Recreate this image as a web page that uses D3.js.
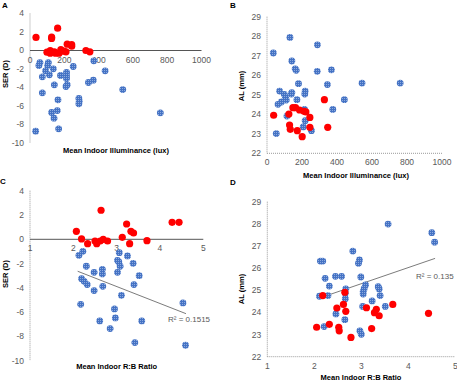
<!DOCTYPE html>
<html>
<head>
<meta charset="utf-8">
<script src="https://cdn.jsdelivr.net/npm/d3@7"></script>
<style>
  body { margin: 0; background: #fff; }
  svg text { font-family: "Liberation Sans", Arial, sans-serif; }
</style>
</head>
<body>
<svg id="chart" width="457" height="384"></svg>
<script>
// tick labels
const serTicks = [-10, -8, -6, -4, -2, 0, 2, 4];
const alTicks = [22, 23, 24, 25, 26, 27, 28, 29];
const luxTicks = [0, 200, 400, 600, 800, 1000];
const rbTicks = [1, 2, 3, 4, 5];

// A: illuminance vs SER  [lux, SER]
const luxSerRed = [
  [35, 1.41], [126, 1.44], [126, 1.3], [161, 2.41], [217, 0.68], [243, 0.65], [243, 0.47],
  [99, -0.18], [118, 0], [118, -0.29], [142, -0.14], [149, -0.29], [169, -0.29], [180, 0.1],
  [198, -0.07], [210, -0.14], [326, 0], [349, -0.14]
];
const luxSerBlue = [
  [58, -1.3], [52, -1.62], [107, -1.3], [103, -1.62], [91, -2.2], [113, -2.63], [72, -2.85],
  [136, -1.98], [178, -2.7], [213, -2.38], [213, -2.74], [213, -3.03], [217, -3.71], [210, -3.89],
  [252, -1.73], [142, -3.71], [72, -4.58], [163, -5.33], [285, -5.19], [287, -5.48], [285, -5.77],
  [126, -6.7], [159, -6.49], [140, -7.32], [167, -8.47], [33, -8.72], [341, -3.46], [369, -3.21],
  [438, -2.2], [541, -4.22], [760, -6.74], [372, -1.12]
];

// B: illuminance vs AL  [lux, AL]
const luxAlRed = [
  [328, 24.75], [38, 23.95], [148, 24.34], [163, 24.34], [186, 24.22], [211, 24.15], [222, 24.12],
  [125, 24.01], [245, 23.84], [129, 23.45], [133, 23.23], [173, 23.16], [201, 22.85], [245, 23.33],
  [347, 23.33]
];
const luxAlBlue = [
  [131, 27.94], [288, 27.56], [36, 27.14], [142, 26.73], [161, 26.33], [167, 26.25], [287, 26.2],
  [368, 26.28], [180, 25.57], [345, 25.52], [543, 25.6], [761, 25.6], [72, 25.19], [99, 25.02],
  [106, 24.87], [110, 24.73], [142, 25.11], [139, 25.04], [218, 25.19], [216, 25.04], [171, 24.75],
  [63, 24.51], [82, 24.63], [442, 24.75], [376, 24.25], [214, 24.25], [114, 23.91], [218, 23.67],
  [207, 23.35], [254, 23.16], [53, 23.01]
];

// C: R:B ratio vs SER  [ratio, SER]
const rbSerRed = [
  [2.64, 2.39], [3.23, 1.26], [4.28, 1.4], [4.44, 1.4], [2.07, 0.66], [3.33, 0.66], [3.39, 0.52],
  [2.19, 0.03], [2.33, -0.36], [2.5, -0.14], [2.54, -0.36], [2.62, -0.14], [2.69, 0], [2.79, -0.14],
  [3.13, 0.16], [3.3, -0.36], [3.7, -0.11]
];
const rbSerBlue = [
  [2.22, -0.99], [2.13, -1.32], [3.06, -1.1], [3.25, -1.37], [3.02, -1.73], [3.05, -1.87],
  [3.08, -2.22], [3.02, -2.72], [3.38, -1.98], [2.3, -2.22], [2.48, -2.72], [2.67, -2.47],
  [2.67, -2.85], [3.52, -2.99], [2.19, -3.24], [2.25, -3.46], [2.32, -3.73], [2.48, -4.22],
  [2.68, -3.87], [3.4, -3.73], [3.11, -4.61], [2.17, -5.35], [2.95, -5.73], [2.97, -6.47],
  [2.61, -6.72], [3.58, -6.72], [2.85, -7.35], [4.53, -5.24], [3.42, -8.5], [4.59, -8.72]
];
const rbSerTrend = [[2.1, -2.63], [4.6, -6.12]];

// D: R:B ratio vs AL  [ratio, AL]
const rbAlRed = [
  [2.18, 24.76], [2.65, 24.91], [2.62, 24.36], [2.48, 24.2], [2.67, 24.05], [3.11, 24.21],
  [3.32, 24.14], [3.28, 23.99], [3.38, 23.85], [3.67, 24.36], [4.43, 23.96], [2.05, 23.33],
  [2.32, 23.46], [2.52, 23.33], [2.53, 23.17], [2.78, 22.87], [3.22, 23.27]
];
const rbAlBlue = [
  [3.57, 27.99], [4.5, 27.6], [4.56, 27.17], [2.82, 26.77], [2.13, 26.32], [2.18, 26.32],
  [2.96, 26.37], [2.94, 26.22], [2.23, 25.54], [2.45, 25.63], [2.58, 25.63], [2.99, 25.6],
  [2.32, 25.19], [3.09, 25.24], [3.06, 25.07], [3.04, 24.94], [3.04, 24.83], [3.36, 25.16],
  [3.38, 25.06], [3.4, 24.76], [2.67, 25.06], [2.66, 24.86], [2.66, 24.62], [2.11, 24.73],
  [2.29, 24.76], [3.23, 24.52], [3.51, 24.27], [3.03, 24.27], [2.46, 23.93], [2.65, 23.67],
  [2.21, 23.36], [2.97, 23.17], [3.0, 23.01]
];
const rbAlTrend = [[2.14, 24.67], [4.57, 26.44]];

const svg = d3.select("#chart");

// dotted texture for the blue markers
const pat = svg.append("defs").append("pattern")
  .attr("id", "bluedots")
  .attr("patternUnits", "userSpaceOnUse")
  .attr("width", 2).attr("height", 2);
pat.append("rect").attr("width", 2).attr("height", 2).attr("fill", "#4472c4");
pat.append("rect").attr("width", 1).attr("height", 1).attr("fill", "#8caadf");

function drawPanel(p) {
  const g = svg.append("g");
  const x = d3.scaleLinear().domain(p.xDomain).range(p.xRange);
  const y = d3.scaleLinear().domain(p.yDomain).range(p.yRange);

  g.append("text")
    .attr("x", p.letter[1]).attr("y", p.letter[2])
    .style("font-size", "8px").style("font-weight", "bold")
    .text(p.letter[0]);

  // y axis (dotted)
  g.append("line")
    .attr("x1", x(p.xDomain[0])).attr("x2", x(p.xDomain[0]))
    .attr("y1", y(p.yDomain[1])).attr("y2", y(p.yDomain[0]))
    .attr("stroke", "#9a9a9a").attr("stroke-dasharray", "1,1");

  // x axis line sits on xAt (0 for SER, bottom for AL)
  const xAxisY = y(p.xAt);
  const atBottom = p.xAt === p.yDomain[0];
  g.append("line")
    .attr("x1", x(p.xDomain[0])).attr("x2", x(p.xDomain[1]))
    .attr("y1", xAxisY).attr("y2", xAxisY)
    .attr("stroke", atBottom ? "#9a9a9a" : "#555")
    .attr("stroke-dasharray", atBottom ? "1,1" : null);

  g.selectAll(".ytick").data(p.yTicks).enter().append("text")
    .attr("x", x(p.xDomain[0]) - 6)
    .attr("y", d => y(d))
    .attr("dy", "0.35em")
    .attr("text-anchor", "end")
    .style("font-size", "8.5px").attr("fill", "#595959")
    .text(d => d);

  g.selectAll(".xtick").data(p.xTicks).enter().append("text")
    .attr("x", d => x(d))
    .attr("y", xAxisY + 12)
    .attr("text-anchor", "middle")
    .style("font-size", "8.5px").attr("fill", "#595959")
    .text(d => d);

  if (p.trend) {
    g.append("line")
      .attr("x1", x(p.trend[0][0])).attr("y1", y(p.trend[0][1]))
      .attr("x2", x(p.trend[1][0])).attr("y2", y(p.trend[1][1]))
      .attr("stroke", "#595959").attr("stroke-width", 0.8);
    g.append("text")
      .attr("x", p.r2[1]).attr("y", p.r2[2])
      .style("font-size", "8px").attr("fill", "#595959")
      .text(p.r2[0]);
  }

  g.selectAll(".blue").data(p.blue).enter().append("circle")
    .attr("cx", d => x(d[0])).attr("cy", d => y(d[1]))
    .attr("r", 3.4).attr("fill", "url(#bluedots)");

  g.selectAll(".red").data(p.red).enter().append("circle")
    .attr("cx", d => x(d[0])).attr("cy", d => y(d[1]))
    .attr("r", 3.6).attr("fill", "#ff0000");

  g.append("text")
    .attr("x", p.xTitle[1]).attr("y", p.xTitle[2])
    .attr("text-anchor", "middle")
    .style("font-size", "7.5px").style("font-weight", "bold")
    .text(p.xTitle[0]);

  g.append("text")
    .attr("transform", `translate(${p.yTitle[1]},${p.yTitle[2]}) rotate(-90)`)
    .attr("text-anchor", "middle")
    .style("font-size", "7.5px").style("font-weight", "bold")
    .text(p.yTitle[0]);
}

drawPanel({
  letter: ["A", 2, 8],
  xDomain: [0, 1000], xRange: [30, 201.5],
  yDomain: [-10, 4], yRange: [143, 13.5], xAt: 0,
  xTicks: luxTicks, yTicks: serTicks,
  red: luxSerRed, blue: luxSerBlue,
  xTitle: ["Mean Indoor Illuminance (lux)", 116, 153],
  yTitle: ["SER (D)", 8, 74]
});

drawPanel({
  letter: ["B", 230, 8],
  xDomain: [0, 1000], xRange: [267, 442],
  yDomain: [22, 29], yRange: [153.3, 16.7], xAt: 22,
  xTicks: luxTicks, yTicks: alTicks,
  red: luxAlRed, blue: luxAlBlue,
  xTitle: ["Mean Indoor Illuminance (lux)", 356, 177.5],
  yTitle: ["AL (mm)", 244, 86]
});

drawPanel({
  letter: ["C", 0, 184],
  xDomain: [1, 5], xRange: [30, 203.3],
  yDomain: [-10, 4], yRange: [360.8, 190.7], xAt: 0,
  xTicks: rbTicks, yTicks: serTicks,
  red: rbSerRed, blue: rbSerBlue,
  trend: rbSerTrend, r2: ["R² = 0.1515", 168, 322],
  xTitle: ["Mean Indoor R:B Ratio", 116.7, 369],
  yTitle: ["SER (D)", 8, 274]
});

drawPanel({
  letter: ["D", 230, 185],
  xDomain: [1, 5], xRange: [267.3, 455.3],
  yDomain: [22, 29], yRange: [356.7, 201.7], xAt: 22,
  xTicks: rbTicks, yTicks: alTicks,
  red: rbAlRed, blue: rbAlBlue,
  trend: rbAlTrend, r2: ["R² = 0.135", 416, 279],
  xTitle: ["Mean Indoor R:B Ratio", 361, 380],
  yTitle: ["AL (mm)", 244, 289]
});
</script>
</body>
</html>
